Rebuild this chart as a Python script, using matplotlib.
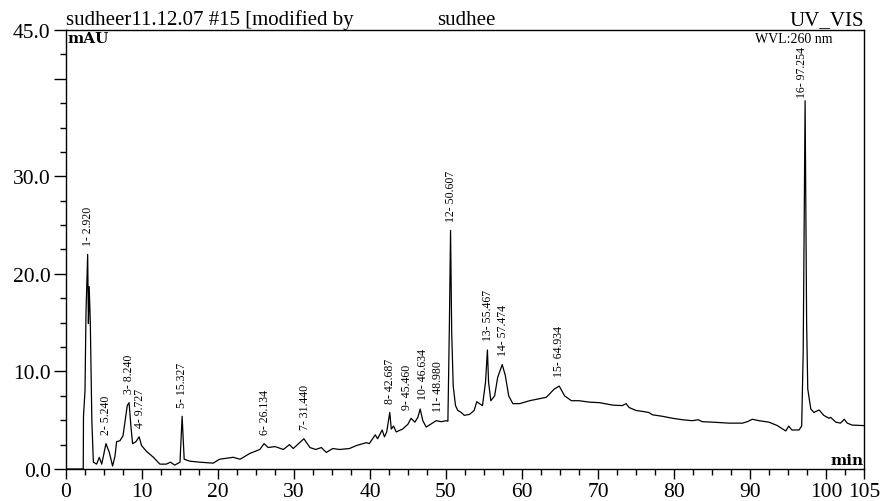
import matplotlib
matplotlib.use('Agg')
import matplotlib.pyplot as plt
from matplotlib.ticker import MultipleLocator, FixedLocator

# chromatogram trace (min, mAU)
time = [0.0, 2.2, 2.27, 2.3, 2.5, 2.63, 2.75, 2.85, 2.95, 3.05, 3.2, 3.4, 3.6,
        4.03, 4.38, 4.7, 5.26, 5.7, 6.13, 6.44, 6.66, 7.1, 7.5, 8.06, 8.3, 8.54,
        8.76, 9.2, 9.63, 9.94, 10.6, 11.5, 12.35, 13.2, 13.75, 14.3, 15.0, 15.28,
        15.55, 16.3, 17.6, 19.36, 20.2, 22.0, 22.9, 24.2, 25.5, 26.06, 26.6, 27.5,
        28.6, 29.4, 29.9, 30.75, 31.3, 32.1, 32.85, 33.6, 34.25, 35.1, 36.0, 37.3,
        38.2, 39.1, 39.5, 39.9, 40.7, 41.0, 41.6, 41.9, 42.2, 42.6, 42.8, 43.1,
        43.45, 44.3, 45.0, 45.4, 45.9, 46.3, 46.6, 46.95, 47.4, 48.0, 48.7, 49.4,
        50.0, 50.25, 50.45, 50.6, 50.75, 50.95, 51.25, 51.55, 52.0, 52.4, 53.1,
        53.7, 54.05, 54.4, 54.8, 55.2, 55.45, 55.6, 55.9, 56.4, 56.8, 57.4, 57.8,
        58.25, 58.8, 59.7, 61.0, 62.3, 63.2, 64.25, 64.9, 65.6, 66.5, 67.5, 68.9,
        70.2, 71.9, 73.2, 73.7, 74.1, 75.0, 75.9, 76.65, 77.2, 78.5, 79.8, 81.1,
        82.4, 83.2, 83.7, 85.1, 87.25, 89.0, 89.65, 90.3, 91.2, 92.5, 93.6, 94.3,
        94.7, 95.1, 95.5, 96.45, 96.8, 97.0, 97.25, 97.45, 97.6, 98.0, 98.4, 99.1,
        99.7, 100.4, 100.6, 101.3, 101.9, 102.4, 102.8, 103.45, 105.0]
signal = [0.0, 0.0, 0.0, 5.4, 8.0, 16.0, 19.3, 22.0, 14.9, 18.7, 15.0, 5.0, 0.7,
          0.5, 1.2, 0.5, 2.6, 1.7, 0.3, 1.3, 2.8, 2.9, 3.4, 6.5, 6.8, 4.4,
          2.6, 2.8, 3.3, 2.4, 1.8, 1.2, 0.5, 0.5, 0.7, 0.4, 0.7, 5.4,
          1.0, 0.8, 0.7, 0.6, 1.0, 1.2, 1.0, 1.6, 2.0, 2.6, 2.2, 2.3,
          2.0, 2.5, 2.1, 2.7, 3.1, 2.2, 2.0, 2.2, 1.7, 2.1, 2.0, 2.1,
          2.4, 2.6, 2.7, 2.6, 3.5, 3.1, 4.0, 3.3, 3.8, 5.8, 4.1, 4.4,
          3.8, 4.1, 4.6, 5.2, 4.8, 5.3, 6.15, 4.95, 4.3, 4.6, 4.95, 4.85,
          4.95, 4.9, 15.0, 24.45, 14.0, 8.5, 6.5, 6.0, 5.8, 5.5, 5.6,
          6.0, 6.9, 6.7, 6.5, 8.9, 12.2, 8.9, 7.0, 7.5, 9.4, 10.7, 9.6,
          7.5, 6.7, 6.7, 7.0, 7.2, 7.35, 8.2, 8.5, 7.5, 7.0, 7.0, 6.85,
          6.8, 6.55, 6.5, 6.7, 6.3, 6.0, 5.9, 5.8, 5.55, 5.4, 5.2, 5.05,
          4.95, 5.05, 4.85, 4.8, 4.7, 4.7, 4.85, 5.1, 4.95, 4.8, 4.45, 4.1,
          3.9, 4.4, 4.0, 4.0, 4.4, 12.0, 37.75, 15.0, 8.2, 6.15, 5.8, 6.05,
          5.5, 5.2, 5.3, 4.8, 4.7, 5.1, 4.7, 4.5, 4.45]

# peak table
peak_no = list(range(1, 17))
peak_rt = [2.920, 5.240, 8.240, 9.727, 15.327, 26.134, 31.440, 42.687, 45.460,
           46.634, 48.980, 50.607, 55.467, 57.474, 64.934, 97.254]
peak_h = [22.0, 2.6, 6.8, 3.3, 5.4, 2.6, 3.1, 5.8, 5.2, 6.15, 4.95, 24.45, 12.2,
          10.7, 8.5, 37.75]

y_ticks = [0, 10, 20, 30, 40, 45]
y_ticklabels = ['0.0', '10.0', '20.0', '30.0', '', '45.0']
x_ticks = [0, 10, 20, 30, 40, 50, 60, 70, 80, 90, 100, 105]

# small sideways nudges (points) so crowded labels don't collide
nudge = {9: -3, 10: 2, 16: -2}

plt.rcParams['font.family'] = ['Liberation Serif', 'DejaVu Serif']

fig = plt.figure(figsize=(8.81, 5.02), dpi=100)
ax = fig.add_axes([66 / 881, 1 - 470 / 502, 798 / 881, 439 / 502])

ax.plot(time, signal, color='black', lw=0.9)

ax.set_xlim(0, 105)
ax.set_ylim(0, 45)
ax.xaxis.set_major_locator(FixedLocator(x_ticks))
ax.xaxis.set_minor_locator(MultipleLocator(2.5))
ax.set_xticklabels([str(v) for v in x_ticks])
ax.yaxis.set_major_locator(FixedLocator(y_ticks))
ax.yaxis.set_minor_locator(MultipleLocator(2.5))
ax.set_yticklabels(y_ticklabels)
ax.tick_params(which='major', width=1.0, labelsize=15.5, pad=2)
ax.tick_params(axis='x', which='major', length=7.5)
ax.tick_params(axis='y', which='major', length=9)
ax.tick_params(which='minor', length=4, width=1.0)
for s in ax.spines.values():
    s.set_linewidth(1.0)

for n, rt, h in zip(peak_no, peak_rt, peak_h):
    off = 3 if h > 35 else 7
    ax.annotate(f"{n}- {rt:.3f}", (rt, h), xytext=(nudge.get(n, 0), off),
                textcoords='offset points', rotation=90, ha='center',
                va='bottom', fontsize=8.5)

ax.text(0, 1.003, 'sudheer11.12.07 #15 [modified by', transform=ax.transAxes,
        ha='left', va='bottom', fontsize=15)
ax.text(0.465, 1.003, 'sudhee', transform=ax.transAxes,
        ha='left', va='bottom', fontsize=15)
ax.text(1.0, 1.003, 'UV_VIS', transform=ax.transAxes,
        ha='right', va='bottom', fontsize=15)
ax.text(0.002, 0.997, 'mAU', transform=ax.transAxes, ha='left', va='top',
        fontsize=11, fontweight='bold', family='DejaVu Serif')
ax.text(0.96, 0.996, 'WVL:260 nm', transform=ax.transAxes, ha='right', va='top',
        fontsize=10)
ax.text(0.999, 0.004, 'min', transform=ax.transAxes, ha='right', va='bottom',
        fontsize=11, fontweight='bold', family='DejaVu Serif')

plt.savefig('out.png', dpi=100)
